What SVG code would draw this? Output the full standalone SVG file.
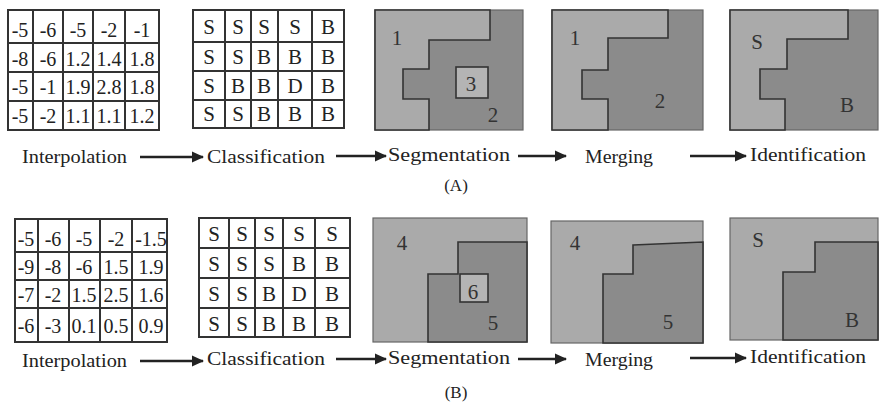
<svg xmlns="http://www.w3.org/2000/svg" width="879" height="404" viewBox="0 0 879 404">
<style>
.cell{fill:#fff;stroke:#333;stroke-width:2}
.num{font-family:"Liberation Serif","Times New Roman",serif;font-size:20px;fill:#222;text-anchor:middle}
.let{font-family:"Liberation Serif","Times New Roman",serif;font-size:21px;fill:#222;text-anchor:middle}
.dark{fill:#8b8b8b;stroke:#666;stroke-width:1.2}
.light{fill:#aaaaaa;stroke:#333;stroke-width:1.6}
.mid{fill:#b4b4b4;stroke:#333;stroke-width:1.6}
.lab{font-family:"Liberation Serif","Times New Roman",serif;font-size:19px;fill:#222}
.reg{font-family:"Liberation Serif","Times New Roman",serif;font-size:21px;fill:#333;text-anchor:middle}
.cap{font-family:"Liberation Serif","Times New Roman",serif;font-size:17px;fill:#222;text-anchor:middle}
.arr{stroke:#222;stroke-width:2.4;fill:none}
</style>
<defs>
<marker id="ah" markerWidth="12" markerHeight="12" refX="11" refY="6" orient="auto" markerUnits="userSpaceOnUse">
<path d="M0,0.5 L12,6 L0,11.5 Z" fill="#222"/>
</marker>
</defs>
<rect width="879" height="404" fill="#fff"/>

<!-- Row A -->
<g id="interpA">
<rect class="cell" x="8" y="10" width="151" height="120"/>
<path class="cell" d="M33,10V130M63,10V130M93,10V130M125,10V130M8,43H159M8,72H159M8,101H159"/>
<g class="num">
<text x="20" y="37">-5</text><text x="48" y="37">-6</text><text x="78" y="37">-5</text><text x="109" y="37">-2</text><text x="142" y="37">-1</text>
<text x="20" y="66">-8</text><text x="48" y="66">-6</text><text x="78" y="66">1.2</text><text x="109" y="66">1.4</text><text x="142" y="66">1.8</text>
<text x="20" y="94">-5</text><text x="48" y="94">-1</text><text x="78" y="94">1.9</text><text x="109" y="94">2.8</text><text x="142" y="94">1.8</text>
<text x="20" y="123">-5</text><text x="48" y="123">-2</text><text x="78" y="123">1.1</text><text x="109" y="123">1.1</text><text x="142" y="123">1.2</text>
</g>
</g>

<g id="classA">
<rect class="cell" x="193" y="10" width="151" height="118"/>
<path class="cell" d="M225,10V128M251,10V128M278,10V128M312,10V128M193,42H344M193,71H344M193,100H344"/>
<g class="let">
<text x="209" y="34">S</text><text x="238" y="34">S</text><text x="264" y="34">S</text><text x="295" y="34">S</text><text x="328" y="34">B</text>
<text x="209" y="64">S</text><text x="238" y="64">S</text><text x="264" y="64">B</text><text x="295" y="64">B</text><text x="328" y="64">B</text>
<text x="209" y="93">S</text><text x="238" y="93">B</text><text x="264" y="93">B</text><text x="295" y="93">D</text><text x="328" y="93">B</text>
<text x="209" y="121">S</text><text x="238" y="121">S</text><text x="264" y="121">B</text><text x="295" y="121">B</text><text x="328" y="121">B</text>
</g>
</g>

<g id="segA">
<rect class="dark" x="375" y="10" width="148" height="120"/>
<polygon class="light" points="375,10 490,10 490,40 429,40 429,69 403,69 403,99 429,99 429,130 375,130"/>
<rect class="mid" x="456" y="67" width="32" height="31"/>
<text class="reg" x="397" y="45">1</text>
<text class="reg" x="471" y="91">3</text>
<text class="reg" x="493" y="122">2</text>
</g>

<g id="mergeA">
<rect class="dark" x="552" y="10" width="151" height="120"/>
<polygon class="light" points="552,10 668,10 668,38 608,38 608,70 582,70 582,99 608,99 608,130 552,130"/>
<text class="reg" x="575" y="45">1</text>
<text class="reg" x="660" y="108">2</text>
</g>

<g id="identA">
<rect class="dark" x="730" y="10" width="148" height="120"/>
<polygon class="light" points="730,10 848,10 848,39 787,39 787,69 760,69 760,99 785,99 785,130 730,130"/>
<text class="reg" x="757" y="49">S</text>
<text class="reg" x="847" y="112">B</text>
</g>

<!-- Row B -->
<g id="interpB">
<rect class="cell" x="15" y="219" width="152" height="123"/>
<path class="cell" d="M38,219V342M69,219V342M100,219V342M132,219V342M15,252H167M15,280H167M15,308H167"/>
<g class="num">
<text x="26" y="246">-5</text><text x="53" y="246">-6</text><text x="84" y="246">-5</text><text x="116" y="246">-2</text><text x="151" y="246">-1.5</text>
<text x="26" y="274">-9</text><text x="53" y="274">-8</text><text x="84" y="274">-6</text><text x="116" y="274">1.5</text><text x="151" y="274">1.9</text>
<text x="26" y="302">-7</text><text x="53" y="302">-2</text><text x="84" y="302">1.5</text><text x="116" y="302">2.5</text><text x="151" y="302">1.6</text>
<text x="26" y="333">-6</text><text x="53" y="333">-3</text><text x="84" y="333">0.1</text><text x="116" y="333">0.5</text><text x="151" y="333">0.9</text>
</g>
</g>

<g id="classB">
<rect class="cell" x="199" y="218" width="151" height="119"/>
<path class="cell" d="M229,218V337M255,218V337M283,218V337M315,218V337M199,248H350M199,278H350M199,308H350"/>
<g class="let">
<text x="214" y="241">S</text><text x="242" y="241">S</text><text x="269" y="241">S</text><text x="299" y="241">S</text><text x="332" y="241">S</text>
<text x="214" y="271">S</text><text x="242" y="271">S</text><text x="269" y="271">S</text><text x="299" y="271">B</text><text x="332" y="271">B</text>
<text x="214" y="301">S</text><text x="242" y="301">S</text><text x="269" y="301">B</text><text x="299" y="301">D</text><text x="332" y="301">B</text>
<text x="214" y="331">S</text><text x="242" y="331">S</text><text x="269" y="331">B</text><text x="299" y="331">B</text><text x="332" y="331">B</text>
</g>
</g>

<g id="segB">
<rect class="light" x="373" y="218" width="154" height="124" style="stroke:#666;stroke-width:1.2"/>
<polygon class="dark" points="458,242 527,242 527,342 428,342 428,274 458,274" style="stroke:#333;stroke-width:1.6"/>
<rect class="mid" x="460" y="274" width="28" height="28"/>
<text class="reg" x="402" y="250">4</text>
<text class="reg" x="473" y="299">6</text>
<text class="reg" x="493" y="330">5</text>
</g>

<g id="mergeB">
<rect class="light" x="551" y="221" width="152" height="122" style="stroke:#666;stroke-width:1.2"/>
<polygon class="dark" points="633,245 703,242 703,343 603,343 603,274 633,274" style="stroke:#333;stroke-width:1.6"/>
<text class="reg" x="575" y="250">4</text>
<text class="reg" x="668" y="329">5</text>
</g>

<g id="identB">
<rect class="light" x="730" y="218" width="148" height="122" style="stroke:#666;stroke-width:1.2"/>
<polygon class="dark" points="815,242 878,242 878,340 783,340 783,272 815,272" style="stroke:#333;stroke-width:1.6"/>
<text class="reg" x="758" y="247">S</text>
<text class="reg" x="852" y="327">B</text>
</g>

<!-- Labels -->
<g class="lab">
<text x="22" y="163" textLength="105" lengthAdjust="spacingAndGlyphs">Interpolation</text>
<text x="207" y="163" textLength="118" lengthAdjust="spacingAndGlyphs">Classification</text>
<text x="388" y="161" textLength="122" lengthAdjust="spacingAndGlyphs">Segmentation</text>
<text x="585" y="163" textLength="68" lengthAdjust="spacingAndGlyphs">Merging</text>
<text x="750" y="161" textLength="116" lengthAdjust="spacingAndGlyphs">Identification</text>
<text x="22" y="367" textLength="105" lengthAdjust="spacingAndGlyphs">Interpolation</text>
<text x="207" y="365" textLength="118" lengthAdjust="spacingAndGlyphs">Classification</text>
<text x="388" y="364" textLength="122" lengthAdjust="spacingAndGlyphs">Segmentation</text>
<text x="585" y="366" textLength="68" lengthAdjust="spacingAndGlyphs">Merging</text>
<text x="750" y="363" textLength="116" lengthAdjust="spacingAndGlyphs">Identification</text>
</g>
<text class="cap" x="456" y="191">(A)</text>
<text class="cap" x="456" y="398">(B)</text>

<g id="connectors">
<line class="arr" x1="140" y1="157" x2="203" y2="157" marker-end="url(#ah)"/>
<line class="arr" x1="336" y1="156" x2="386" y2="156" marker-end="url(#ah)"/>
<line class="arr" x1="518" y1="156" x2="566" y2="156" marker-end="url(#ah)"/>
<line class="arr" x1="690" y1="156" x2="746" y2="156" marker-end="url(#ah)"/>
<line class="arr" x1="140" y1="361" x2="203" y2="361" marker-end="url(#ah)"/>
<line class="arr" x1="336" y1="359" x2="386" y2="359" marker-end="url(#ah)"/>
<line class="arr" x1="518" y1="359" x2="566" y2="359" marker-end="url(#ah)"/>
<line class="arr" x1="690" y1="358" x2="746" y2="358" marker-end="url(#ah)"/>
</g>
</svg>
